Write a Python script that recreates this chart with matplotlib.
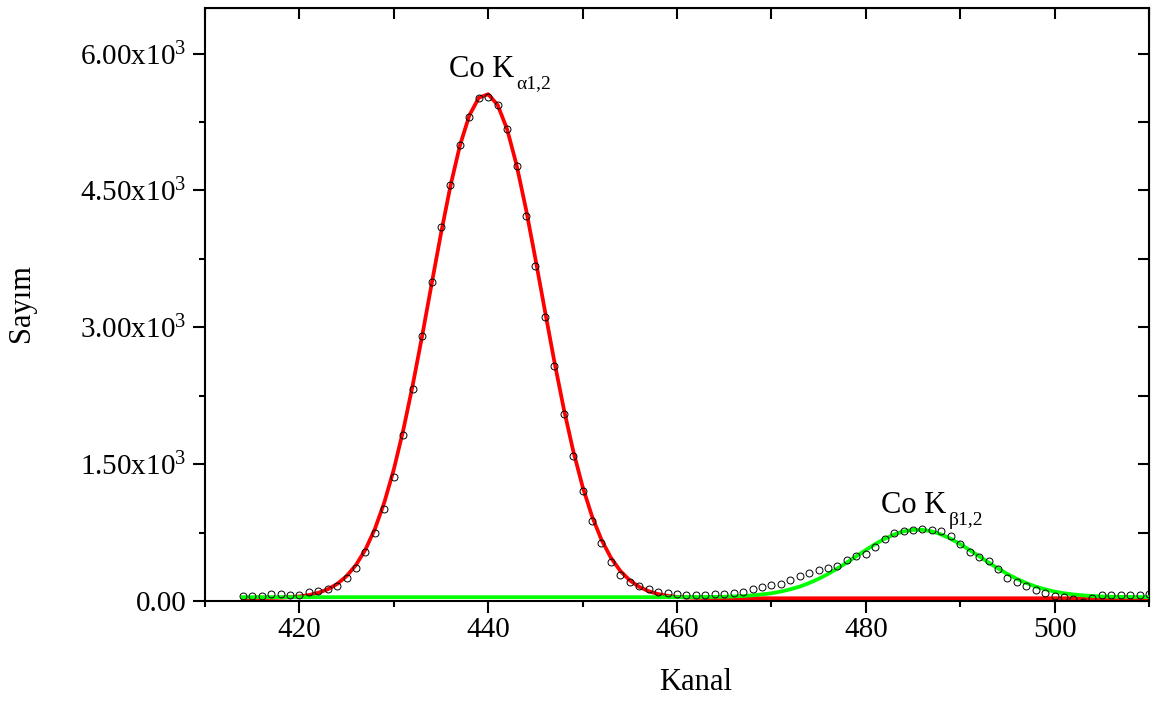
import matplotlib
matplotlib.use("Agg")
import matplotlib.pyplot as plt
from matplotlib.ticker import MultipleLocator, FixedLocator

# ---------------- data ----------------
channels = list(range(414, 511))

counts = [55, 55, 58, 77, 73, 66, 66, 95, 106, 131,            # 414-423
          168, 249, 365, 540, 741, 1007, 1358, 1818, 2321, 2905,  # 424-433
          3496, 4098, 4555, 4993, 5303, 5515, 5522, 5438, 5176, 4766,  # 434-443
          4219, 3668, 3113, 2573, 2055, 1588, 1208, 876, 638, 430,     # 444-453
          290, 205, 160, 128, 102, 84, 73, 69, 69, 69,            # 454-463
          72, 80, 90, 100, 135, 153, 179, 187, 227, 279,          # 464-473
          309, 338, 364, 383, 449, 495, 520, 592, 683, 743,       # 474-483
          762, 776, 786, 780, 762, 712, 630, 533, 482, 438,       # 484-493
          346, 252, 210, 165, 123, 86, 55, 42, 22, -8,            # 494-503
          30, 62, 65, 68, 66, 70, 72]                             # 504-510

fit_kalpha = [30, 31, 32, 33, 36, 41, 50, 65, 90, 128,            # 414-423
              187, 273, 396, 565, 791, 1082, 1442, 1872, 2364, 2904,  # 424-433
              3470, 4029, 4549, 4991, 5322, 5516, 5555, 5437, 5172, 4782,  # 434-443
              4297, 3752, 3186, 2629, 2110, 1648, 1253, 928, 671, 474,     # 444-453
              329, 226, 155, 107, 76, 57, 45, 38, 35, 32,             # 454-463
              31, 30, 30, 30, 30, 30, 30, 30, 30, 30,                 # 464-473
              30, 30, 30, 30, 30, 30, 30, 30, 30, 30,                 # 474-483
              30, 30, 30, 30, 30, 30, 30, 30, 30, 30,                 # 484-493
              30, 30, 30, 30, 30, 30, 30, 30, 30, 30,                 # 494-503
              30, 30, 30, 30, 30, 30, 30]                             # 504-510

fit_kbeta = [42, 42, 42, 42, 42, 42, 42, 42, 42, 42,              # 414-423
             42, 42, 42, 42, 42, 42, 42, 42, 42, 42,              # 424-433
             42, 42, 42, 42, 42, 42, 42, 42, 42, 42,              # 434-443
             42, 42, 42, 42, 42, 42, 42, 42, 42, 42,              # 444-453
             42, 42, 42, 42, 42, 42, 42, 43, 43, 44,              # 454-463
             45, 47, 50, 55, 62, 72, 85, 103, 128, 158,           # 464-473
             197, 243, 296, 357, 422, 491, 559, 624, 682, 729,    # 474-483
             763, 780, 780, 763, 729, 682, 624, 559, 491, 422,    # 484-493
             357, 296, 243, 197, 158, 128, 103, 85, 72, 62,       # 494-503
             55, 50, 47, 45, 44, 43, 43]                          # 504-510

xtick_values = [420, 440, 460, 480, 500]
ytick_values = [0, 1500, 3000, 4500, 6000]
ytick_labels = ["0.00", r"1.50x10$^{3}$", r"3.00x10$^{3}$",
                r"4.50x10$^{3}$", r"6.00x10$^{3}$"]

# ---------------- style ----------------
plt.rcParams["font.family"] = ["Liberation Serif", "DejaVu Serif"]
plt.rcParams["mathtext.fontset"] = "custom"
plt.rcParams["mathtext.rm"] = "Liberation Serif"
plt.rcParams["mathtext.it"] = "Liberation Serif:italic"
plt.rcParams["mathtext.bf"] = "Liberation Serif:bold"
plt.rcParams["mathtext.default"] = "regular"

W, H = 1152, 702
fig = plt.figure(figsize=(W / 100, H / 100), dpi=100)
ax = fig.add_axes([205 / W, 1 - 601 / H, (1149 - 205) / W, (601 - 8) / H])

ax.plot(channels, fit_kalpha, color="#ff0000", lw=2.7, zorder=2,
        solid_joinstyle="round")
ax.plot(channels, fit_kbeta, color="#00ff00", lw=2.7, zorder=3,
        solid_joinstyle="round")
ax.plot(channels, counts, linestyle="none", marker="o", markersize=5.0,
        markerfacecolor="none", markeredgecolor="black",
        markeredgewidth=0.7, zorder=4)

ax.set_xlim(410, 510)
ax.set_ylim(0, 6500)

ax.xaxis.set_major_locator(FixedLocator(xtick_values))
ax.xaxis.set_minor_locator(MultipleLocator(10))
ax.set_yticks(ytick_values)
ax.set_yticklabels(ytick_labels)
ax.yaxis.set_minor_locator(MultipleLocator(750))

for sp in ax.spines.values():
    sp.set_linewidth(1.5)

ax.tick_params(axis="both", which="major", direction="out", length=8.5,
               width=1.5, labelsize=21, colors="black")
ax.tick_params(axis="both", which="minor", direction="out", length=4.3,
               width=1.5)
ax.tick_params(axis="x", which="major", pad=3)
ax.tick_params(axis="y", which="major", pad=5)

# inward ticks on top and right
secx = ax.secondary_xaxis("top")
secx.xaxis.set_major_locator(MultipleLocator(10))
secx.tick_params(axis="x", which="both", direction="in", length=8,
                 width=1.5, labeltop=False)
secy = ax.secondary_yaxis("right")
secy.yaxis.set_major_locator(MultipleLocator(750))
secy.tick_params(axis="y", which="both", direction="in", length=8,
                 width=1.5, labelright=False)

# peak labels
ax.text(435.8, 5748, "Co K", fontsize=22, ha="left", va="baseline")
ax.text(442.96, 5625, "\u03b11,2", fontsize=14, ha="left", va="baseline")
ax.text(481.66, 963, "Co K", fontsize=22, ha="left", va="baseline")
ax.text(488.75, 832, "\u03b21,2", fontsize=14, ha="left", va="baseline")

# axis titles
fig.text(22 / W, 1 - 303 / H, "Sayım", rotation=90, fontsize=22,
         ha="center", va="center")
fig.text(696 / W, 1 - 683 / H, "Kanal", fontsize=22, ha="center",
         va="center")

fig.savefig("out.png", dpi=100)
